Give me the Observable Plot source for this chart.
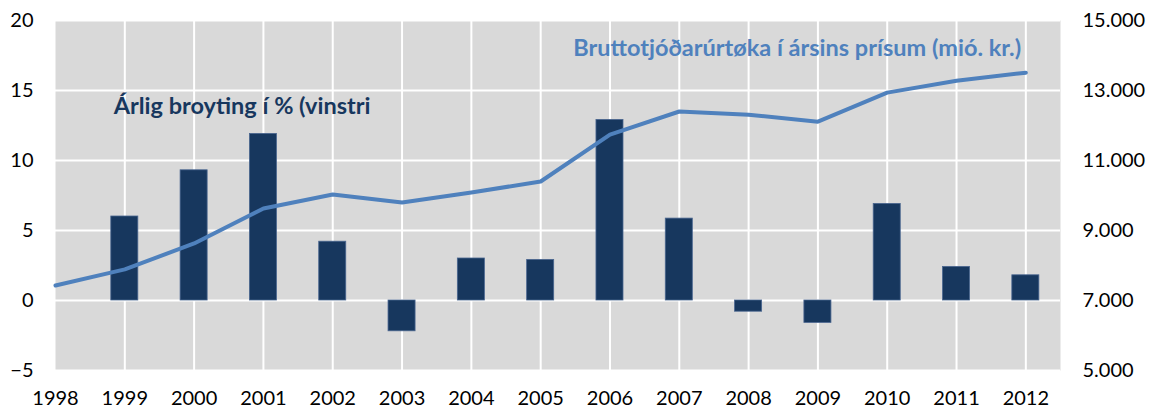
<!DOCTYPE html>
<html>
<head>
<meta charset="utf-8">
<script src="https://cdn.jsdelivr.net/npm/d3@7"></script>
<script src="https://cdn.jsdelivr.net/npm/@observablehq/plot@0.6"></script>
<style>
  body { margin: 0; background: #fff; }
  #chart svg { display: block; }
</style>
</head>
<body>
<div id="chart"></div>
<script>
// Data
const years = [1998,1999,2000,2001,2002,2003,2004,2005,2006,2007,2008,2009,2010,2011,2012];
const changePct = [null,6.0,9.3,11.9,4.2,-2.2,3.0,2.9,12.9,5.85,-0.8,-1.6,6.9,2.4,1.8];
const gdpMio = [7430,7890,8630,9630,10030,9800,10085,10400,11740,12400,12310,12110,12940,13280,13510];
const leftTicks = [-5,0,5,10,15,20];
const rightTicks = [5000,7000,9000,11000,13000,15000];
const labelBars = "Árlig broyting í % (vinstri";
const labelLine = "Bruttotjóðarúrtøka í ársins prísum (mió. kr.)";

// right axis mapping: right = 7000 + 400 * left
const toLeft = v => (v - 7000) / 400;
const fmt = d3.formatLocale({decimal: ",", thousands: ".", grouping: [3], currency: ["", ""]}).format(",");

const bars = years.map((y, i) => ({year: y, v: changePct[i]})).filter(d => d.v != null);
const line = years.map((y, i) => ({year: y, v: toLeft(gdpMio[i])}));

const chart = Plot.plot({
  width: 1151,
  height: 414,
  marginLeft: 55,
  marginRight: 91,
  marginTop: 20,
  marginBottom: 44,
  style: {fontFamily: "Lato, 'Open Sans', sans-serif", fontSize: "20px", color: "#000", background: "#fff"},
  x: {domain: [1998, 2012.5], ticks: years, tickFormat: d => String(d), label: null},
  y: {domain: [-5, 20], ticks: leftTicks, label: null},
  marks: [
    Plot.frame({fill: "#d9d9d9", stroke: null}),
    Plot.ruleX(years.slice(1), {stroke: "#fff", strokeWidth: 2}),
    Plot.ruleY(leftTicks, {stroke: "#fff", strokeWidth: 2}),
    Plot.rectY(bars, {x1: d => d.year - 0.195, x2: d => d.year + 0.195, y1: 0, y2: "v", fill: "#17375e", stroke: "#4a6690", strokeWidth: 0.8}),
    Plot.line(line, {x: "year", y: "v", stroke: "#4f81bd", strokeWidth: 4}),
    Plot.text([labelBars], {x: 1998.84, y: 13.85, text: d => d, textAnchor: "start", fill: "#17375e", fontWeight: "bold", fontSize: 23.5}),
    Plot.text([labelLine], {x: 2005.47, y: 18.0, text: d => d, textAnchor: "start", fill: "#4f81bd", fontWeight: "bold", fontSize: 23.5}),
    Plot.axisY(leftTicks, {anchor: "left", tickSize: 0, tickPadding: 22, fontSize: 20, label: null}),
    Plot.axisY(rightTicks.map(toLeft), {anchor: "right", tickSize: 0, tickPadding: 22, tickFormat: d => fmt(7000 + 400 * d), fontSize: 20, label: null}),
    Plot.axisX(years, {anchor: "bottom", tickSize: 0, tickPadding: 20, tickFormat: d => String(d), fontSize: 20, label: null})
  ]
});
document.getElementById("chart").appendChild(chart);
</script>
</body>
</html>
